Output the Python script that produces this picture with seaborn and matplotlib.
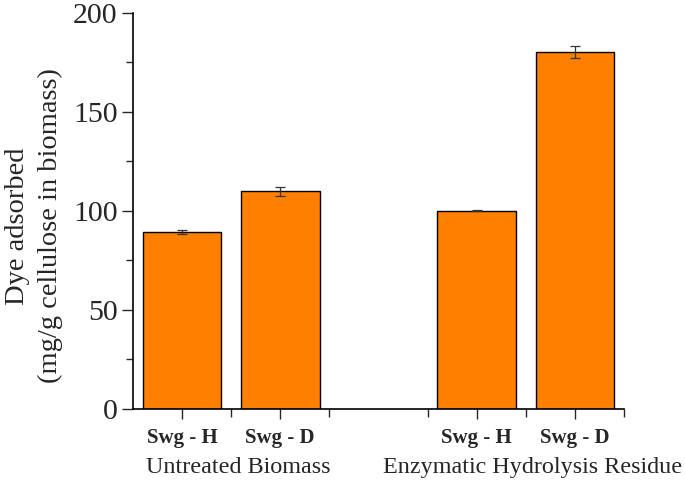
import numpy as np
import pandas as pd
import matplotlib
matplotlib.use('Agg')
import matplotlib.pyplot as plt
import seaborn as sns

# Data
slots = ['UT-H', 'UT-D', 'gap', 'EH-H', 'EH-D']
tick_labels = ['Swg - H', 'Swg - D', '', 'Swg - H', 'Swg - D']
groups = ['Untreated Biomass', 'Enzymatic Hydrolysis Residue']
bar_slots = ['UT-H', 'UT-D', 'EH-H', 'EH-D']
dye_adsorbed = [89.5, 110.0, 100.2, 180.3]
dye_err = [1.0, 2.3, 0.3, 3.0]

df = pd.DataFrame({'slot': bar_slots, 'dye': dye_adsorbed, 'err': dye_err})

sns.set_style('ticks')
plt.rcParams['font.family'] = ['Liberation Serif', 'DejaVu Serif']

fig = plt.figure(figsize=(6.85, 4.8), dpi=100)
ax = fig.add_axes([0.194, 0.148, 0.717, 0.825])

sns.barplot(data=df, x='slot', y='dye', order=slots, color='#ff8000', saturation=1,
            width=0.8, edgecolor='black', linewidth=1.0, errorbar=None, ax=ax)

# error bars at the categorical positions used by seaborn
pos = [slots.index(s) for s in bar_slots]
ax.errorbar(pos, df['dye'], yerr=df['err'], fmt='none', ecolor='#333333',
            elinewidth=0.9, capsize=3.5, capthick=0.9)

ax.set_xlim(-0.5, len(slots) - 0.5)
ax.set_ylim(0, 200)
ax.set_yticks(np.arange(0, 201, 50))
ax.set_yticks(np.arange(25, 200, 50), minor=True)
ax.set_xticks([p for p in pos])
ax.set_xticklabels([tick_labels[p] for p in pos], fontsize=15, fontweight='bold')
ax.set_xticks(np.arange(0.5, len(slots) - 0.5 + 0.01, 1.0), minor=True)
ax.tick_params(axis='y', which='major', labelsize=21.5, length=8, width=1.0, direction='out', pad=3)
ax.tick_params(axis='y', which='minor', length=5, width=1.0, direction='out')
ax.tick_params(axis='x', which='major', length=7, width=1.0, direction='out', pad=7)
ax.tick_params(axis='x', which='minor', length=6, width=1.0, direction='out')

for s in ['top', 'right']:
    ax.spines[s].set_visible(False)
for s in ['left', 'bottom']:
    ax.spines[s].set_linewidth(1.2)
    ax.spines[s].set_color('black')

ax.set_xlabel('')
ax.set_ylabel('Dye adsorbed\n(mg/g cellulose in biomass)', fontsize=20.5, linespacing=1.4)
ax.yaxis.set_label_coords(-0.143, 0.462)

# group labels under the tick labels
for i, g in enumerate(groups):
    center = np.mean(pos[2 * i:2 * i + 2]) + 0.07
    ax.text(center, -0.122, g, transform=ax.get_xaxis_transform(), ha='center', va='top', fontsize=17.4)

fig.savefig('out.png', dpi=100)
